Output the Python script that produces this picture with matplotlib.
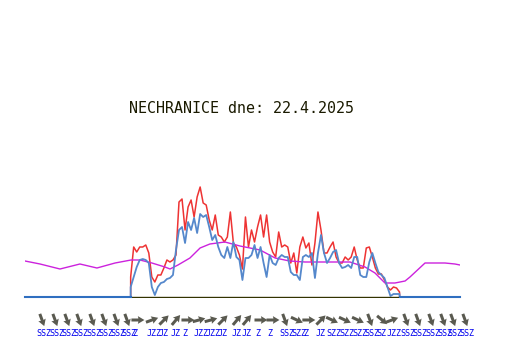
#!/usr/bin/env python
# -*- coding: utf-8 -*-

import numpy as np
import matplotlib
matplotlib.use('Agg')
import matplotlib.pyplot as plt

title = 'NECHRANICE dne: 22.4.2025'

# 10 min samples starting at 5:50
start_hour = 5.83
red = [20, 50, 45, 50, 50, 52, 44, 20, 15, 22, 22, 29, 37, 35, 37, 42, 95, 98, 67, 90,
       97, 80, 100, 110, 94, 92, 77, 67, 82, 62, 60, 55, 60, 85, 54, 50, 42, 28, 80, 50,
       67, 55, 70, 82, 60, 82, 55, 45, 40, 65, 50, 52, 50, 34, 44, 24, 50, 60, 49, 54,
       32, 54, 85, 67, 44, 44, 50, 55, 40, 34, 34, 40, 37, 40, 50, 37, 29, 29, 49, 50,
       40, 29, 23, 23, 17, 10, 7, 10, 9, 5]
blue = [10, 20, 30, 37, 38, 37, 34, 10, 2, 10, 14, 15, 18, 19, 22, 47, 67, 70, 54, 75,
        67, 79, 64, 83, 80, 82, 70, 57, 62, 50, 42, 39, 50, 39, 55, 40, 37, 17, 39, 39,
        42, 52, 39, 50, 34, 20, 42, 34, 32, 39, 42, 40, 40, 25, 22, 22, 17, 40, 42, 40,
        44, 19, 44, 62, 44, 34, 39, 45, 47, 34, 29, 30, 32, 29, 40, 40, 22, 20, 20, 35,
        44, 34, 25, 22, 19, 10, 1, 3, 3, 3]

# long term curve, whole day
avg_hour = [0, 0.83, 1.93, 3.03, 3.97, 4.97, 5.85, 6.34, 7.0, 7.72, 8.0, 8.44, 9.1, 9.66,
            10.2, 11.03, 11.86, 12.69, 12.97, 13.8, 14.6, 15.45, 16.28, 17.1, 17.93,
            18.76, 19.31, 19.86, 20.41, 20.97, 21.24, 22.07, 22.62, 23.17, 23.72, 24.0]
avg = [36, 33, 28, 33, 29, 34, 37, 37, 34, 30, 28, 32, 39, 49, 53, 55, 51, 48, 47, 39,
       36, 35, 35, 35, 35, 30, 24, 14, 14, 16, 20, 34, 34, 34, 33, 32]

# wind
wind_hour = [0.94, 1.66, 2.32, 2.98, 3.70, 4.36, 5.03, 5.63, 6.23, 7.01, 7.67, 8.33,
             8.99, 9.60, 10.26, 10.92, 11.70, 12.25, 13.02, 13.68, 14.34, 15.0, 15.66,
             16.33, 16.94, 17.65, 18.37, 19.03, 19.70, 20.25, 21.02, 21.68, 22.40,
             23.06, 23.61, 24.28]
wind_dir = ['SSZ', 'SSZ', 'SSZ', 'SSZ', 'SSZ', 'SSZ', 'SSZ', 'SSZ', 'Z', 'JZZ', 'JZ',
            'JZ', 'Z', 'JZZ', 'JZZ', 'JZ', 'JZ', 'JZ', 'Z', 'Z', 'SSZ', 'SZZ', 'Z', 'JZ',
            'SZZ', 'SZZ', 'SZZ', 'SSZ', 'SZ', 'JZZ', 'SSZ', 'SSZ', 'SSZ', 'SSZ', 'SSZ', 'SSZ']
wind_angle = [-70, -70, -70, -70, -70, -70, -70, -70, 0, 20, 45, 50, 0, 15, 15, 45, 50,
              50, 0, 0, -70, -25, 0, 45, -25, -25, -25, -70, -40, 20, -70, -70, -70,
              -70, -70, -70]

w, h = 532, 360
fig = plt.figure(figsize=(w / 100, h / 100), dpi=100)
left, right, top, bottom = 25, 460, 180, 298
ax = fig.add_axes([left / w, 1 - bottom / h, (right - left) / w, (bottom - top) / h])
ax.set_xlim(0, 24)
ax.set_ylim(-1, bottom - top - 1)
ax.axis('off')

hours = start_hour + np.arange(len(red)) / 6.0
t_full = np.concatenate(([start_hour], hours, [hours[-1] + 0.01]))
red_full = np.concatenate(([0], red, [0]))
blue_full = np.concatenate(([-1], blue, [-1]))

ax.plot(avg_hour, avg, color='#cc22dd', lw=1.0, zorder=3)
ax.plot(t_full, red_full, color='#ee3333', lw=1.1, zorder=2)
ax.plot(t_full, blue_full, color='#5588cc', lw=1.3, zorder=4)
ax.plot([start_hour, hours[-1]], [0, 0], color='#333300', lw=1.0, zorder=5)
ax.plot([0, start_hour], [-0.4, -0.4], color='#2f6fc0', lw=1.5, zorder=5, clip_on=False)
ax.plot([hours[-1], 24], [-0.4, -0.4], color='#2f6fc0', lw=1.5, zorder=5, clip_on=False)

wind_y = -23
label_y = -36
angle = np.radians(wind_angle)
ax.quiver(wind_hour, [wind_y] * len(wind_hour), 13 * np.cos(angle), 13 * np.sin(angle),
          angles='uv', scale_units='dots', scale=1, units='dots', width=3,
          headwidth=2.6, headlength=2.2, headaxislength=2.0, pivot='mid',
          color='#5a5a50', clip_on=False)
for x, d in zip(wind_hour, wind_dir):
    ax.annotate(d, (x, label_y), xytext=(-5.5 / 100 * 72, 0), textcoords='offset points',
                family='DejaVu Sans Mono', fontsize=6, color='#0000ee',
                ha='left', va='center', annotation_clip=False)

fig.text(241.5 / w, 1 - 108 / h, title, family='DejaVu Sans Mono', fontsize=10.8,
         color='#1a1a00', ha='center', va='center')

fig.savefig('out.png', dpi=100, facecolor='white')
